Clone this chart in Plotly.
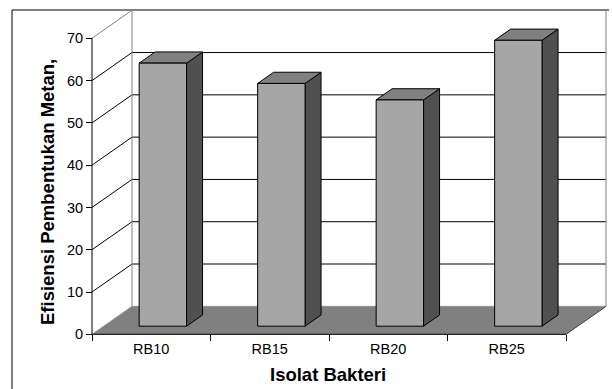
import plotly.graph_objects as go

# Methane formation efficiency per bacterial isolate
categories = ["RB10", "RB15", "RB20", "RB25"]
efficiency = [62.2, 57.4, 53.5, 67.6]
y_ticks = [0, 10, 20, 30, 40, 50, 60, 70]

# ---- page / projection settings ----
W, H = 612, 389
X0_PX, PX_PER_CAT = 92, 118.5      # pixel of category boundary 0, pixels per category
Y0_PX, PX_PER_UNIT = 334.3, 4.229  # pixel of value 0, pixels per value unit
DEPTH_PX = (40, 28)                # oblique depth offset of the floor / walls
DX = DEPTH_PX[0] / PX_PER_CAT
DY = DEPTH_PX[1] / PX_PER_UNIT
F_FRONT, F_BACK = 0.29, 0.69       # depth fraction occupied by the columns
BAR_W = 0.40
Y_MAX = y_ticks[-1]
N = len(categories)

FRONT, SIDE, TOP, FLOOR = "#a6a6a6", "#505050", "#808080", "#808080"
EDGE_GREY = "#808080"
FONT = "Arial, Liberation Sans, sans-serif"

# plot area in pixels (a little larger than the box so edge lines are not clipped)
PA_L, PA_R, PA_T, PA_B = 86, 609, 6, 340

traces = []


def seg(xs, ys, color="#000000", width=1):
    traces.append(go.Scatter(x=xs, y=ys, mode="lines",
                             line=dict(color=color, width=width),
                             hoverinfo="skip", showlegend=False))


def poly(xs, ys, fill, line_color="#000000", width=1):
    traces.append(go.Scatter(x=xs + xs[:1], y=ys + ys[:1], mode="lines",
                             fill="toself", fillcolor=fill,
                             line=dict(color=line_color, width=width),
                             hoverinfo="skip", showlegend=False))


# left side wall gridlines
for v in y_ticks[1:-1]:
    seg([0, DX], [v, v + DY])
# back wall gridlines
for v in y_ticks[1:-1]:
    seg([DX, N + DX], [v + DY, v + DY])

# wall edges
seg([DX, DX, N + DX, N + DX], [DY, Y_MAX + DY, Y_MAX + DY, DY], EDGE_GREY)
seg([0, DX], [Y_MAX, Y_MAX + DY], EDGE_GREY)

# floor
poly([0, N, N + DX, DX], [0, 0, DY, DY], FLOOR, FLOOR, 0.5)
seg([N, N + DX], [0, DY], "#404040")

# front axis lines
seg([0, 0, N], [Y_MAX, 0, 0])

# columns
for i, v in enumerate(efficiency):
    xl = i + 0.5 - BAR_W / 2 + F_FRONT * DX
    xr = xl + BAR_W
    yb = F_FRONT * DY
    yt = yb + v
    ddx = (F_BACK - F_FRONT) * DX
    ddy = (F_BACK - F_FRONT) * DY
    poly([xr, xr + ddx, xr + ddx, xr], [yb, yb + ddy, yt + ddy, yt], SIDE)
    poly([xl, xr, xr + ddx, xl + ddx], [yt, yt, yt + ddy, yt + ddy], TOP)
    poly([xl, xr, xr, xl], [yb, yb, yt, yt], FRONT)

fig = go.Figure(traces)

x_range = [(PA_L - X0_PX) / PX_PER_CAT, (PA_R - X0_PX) / PX_PER_CAT]
y_range = [(Y0_PX - PA_B) / PX_PER_UNIT, (Y0_PX - PA_T) / PX_PER_UNIT]

fig.update_layout(
    width=W, height=H,
    margin=dict(l=0, r=0, t=0, b=0),
    paper_bgcolor="white", plot_bgcolor="white",
    font=dict(family=FONT, color="black", size=14.5),
    xaxis=dict(
        domain=[PA_L / W, PA_R / W], range=x_range,
        anchor="free", position=1 - Y0_PX / H,
        tickmode="array",
        tickvals=[i + 0.5 for i in range(N)], ticktext=categories,
        ticks="", ticklabelstandoff=4,
        minor=dict(tickmode="array", tickvals=list(range(N + 1)),
                   ticks="outside", ticklen=6, tickcolor="black", tickwidth=1,
                   showgrid=False),
        showgrid=False, zeroline=False, showline=False,
        tickfont=dict(size=14.5, family=FONT, color="black"),
        automargin=False, fixedrange=True,
    ),
    yaxis=dict(
        domain=[1 - PA_B / H, 1 - PA_T / H], range=y_range,
        anchor="free", position=X0_PX / W,
        tickmode="array", tickvals=y_ticks,
        ticks="outside", ticklen=6, tickcolor="black", tickwidth=1,
        showgrid=False, zeroline=False, showline=False,
        tickfont=dict(size=14.5, family=FONT, color="black"),
        automargin=False, fixedrange=True,
    ),
    # chart-area frame: left and top edges
    shapes=[
        dict(type="line", xref="paper", yref="paper",
             x0=12 / W, x1=12 / W, y0=0, y1=1 - 10 / H,
             line=dict(color="black", width=1), layer="below"),
        dict(type="line", xref="paper", yref="paper",
             x0=12 / W, x1=PA_R / W, y0=1 - 10 / H, y1=1 - 10 / H,
             line=dict(color="black", width=1), layer="below"),
    ],
    annotations=[
        dict(text="<b>Efisiensi Pembentukan Metan,</b>", textangle=-90,
             xref="paper", yref="paper", x=47 / W, y=1 - 192 / H,
             xanchor="center", yanchor="middle", showarrow=False,
             font=dict(size=18.5, family=FONT, color="black")),
        dict(text="<b>Isolat Bakteri</b>",
             xref="paper", yref="paper", x=328 / W, y=1 - 374 / H,
             xanchor="center", yanchor="middle", showarrow=False,
             font=dict(size=18.5, family=FONT, color="black")),
    ],
)

fig.write_html("out.html")
